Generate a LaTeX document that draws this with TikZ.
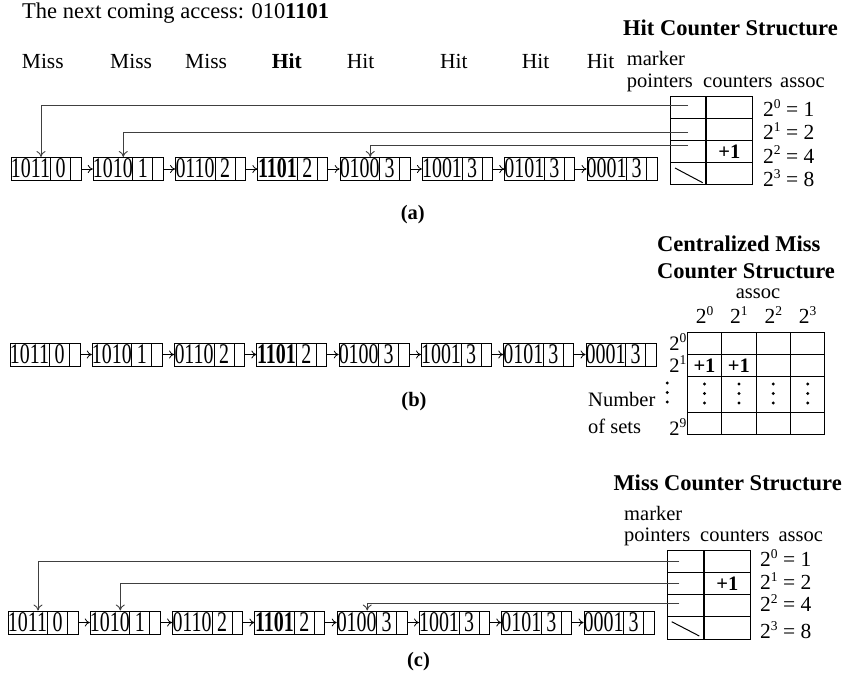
\documentclass[tikz,border=0pt]{standalone}
\usepackage{fontspec}
\setmainfont{Liberation Serif}
\newfontfamily\boxfont[FakeStretch=0.7]{Liberation Serif}
\usetikzlibrary{arrows.meta,shapes.multipart}

\newcommand{\ent}[2]{\makebox[39pt]{\rule[-3pt]{0pt}{23pt}#1}\nodepart{two}\makebox[19pt]{\rule[-3pt]{0pt}{23pt}#2}\nodepart{three}\makebox[10pt]{\rule[-3pt]{0pt}{23pt}}}
\newcommand{\expo}[1]{\raisebox{0.38em}{\fontsize{13.5}{14}\selectfont#1}}

\begin{document}
\begin{tikzpicture}[x=1pt,y=-1pt,
head/.style={font=\fontsize{22.5}{26}\selectfont,inner sep=0pt},
word/.style={font=\fontsize{21.5}{25}\selectfont,inner sep=0pt},
small/.style={font=\fontsize{20.5}{24}\selectfont,inner sep=0pt},
title/.style={font=\fontsize{22.5}{26}\selectfont\bfseries,inner sep=0pt},
entry/.style={rectangle split,rectangle split horizontal,rectangle split parts=3,draw,line width=1pt,inner sep=0pt,font=\boxfont\fontsize{28.5}{30}\selectfont},
cell/.style={draw,line width=1pt,minimum width=#1,minimum height=22pt,inner sep=0pt,font=\fontsize{20.5}{24}\selectfont\bfseries},
link/.style={-{To[length=5pt,width=8pt]},line width=0.8pt},
ptr/.style={-{To[length=6pt,width=9pt]},line width=0.9pt,draw=black!75}]

\useasboundingbox (0,0) rectangle (846,681);

% access sequence
\node[head,anchor=base west] (access) at (22,18.3) {The next coming access: 010\textbf{1101}};
\foreach \x/\w [count=\n] in {21.7/Miss,110/Miss,185/Miss,271.7/\textbf{Hit},346.7/Hit,440/Hit,521.7/Hit,586.7/Hit}
  \node[word,anchor=base west] (res\n) at (\x,68.3) {\w};

% the three lists
\foreach \r/\x/\y in {a/46/169,b/45/354.5,c/43/622.5} {
  \foreach \k/\tag/\cnt in {0/1011/0,1/1010/1,2/0110/2,3/\textbf{1101}/2,4/0100/3,5/1001/3,6/0101/3,7/0001/3}
    \node[entry] (\r\k) at (\x+82.3*\k,\y) {\ent{\tag}{\cnt}};
  \foreach \k [count=\n] in {0,...,6}
    \draw[link] (\r\k.east) -- (\r\n.west);
}

% (a) hit counter structure
\node[title,anchor=base west] (hittitle) at (623,35) {Hit Counter Structure};
\node[small,anchor=base west] (hmark) at (626.7,65.5) {marker};
\node[small,anchor=base west] (hptr) at (626.7,87.5) {pointers};
\node[small,anchor=base west] (hcnt) at (703,87.5) {counters};
\node[small,anchor=base west] (hasc) at (780,87.5) {assoc};
\foreach \i/\v/\b/\e/\w in {1/{}/116.7/0/1,2/{}/139.3/1/2,3/+1/163/2/4,4/{}/186.7/3/8} {
  \node[cell=36pt] (hp\i) at (688,85.7+22*\i) {};
  \node[cell=46.7pt] (hc\i) at (729.3,85.7+22*\i) {\v};
  \node[word,anchor=base west] (hw\i) at (763,\b) {2\expo{\e} = \w};
}
\draw[ptr] ([yshift=2.7pt]hp1.center) -| ([xshift=-5pt]a0.north);
\draw[ptr] ([yshift=-3pt]hp2.center) -| ([xshift=-5pt]a1.north);
\draw[ptr] ([yshift=6pt]hp3.center) -| ([xshift=-5pt]a4.north);
\draw[line width=1pt] ([shift={(-13pt,5.7pt)}]hp4.center) -- ([shift={(14.7pt,-9pt)}]hp4.center);
\node[title,font=\fontsize{20.5}{24}\selectfont\bfseries] (capa) at (412.7,215) {(a)};

% (b) centralized miss counter structure
\node[title,anchor=base west] (cmtitle) at (657,251.5) {Centralized Miss};
\node[title,anchor=base west] (cmtitle2) at (657,278) {Counter Structure};
\node[small,anchor=base] (cmasc) at (758,298) {assoc};
\foreach \j [evaluate=\j as \e using int(\j-1)] in {1,...,4} {
  \node[word,anchor=base] (cme\j) at (670.1+34.4*\j,323.5) {2\expo{\e}};
  \node[cell=34.4pt] (cm1\j) at (670.1+34.4*\j,343.7) {};
  \node[cell=34.4pt,minimum height=36pt] (cm3\j) at (670.1+34.4*\j,394.7) {};
  \node[cell=34.4pt] (cm4\j) at (670.1+34.4*\j,423.7) {};
  \foreach \d in {10.7,1.2,-8.3}
    \fill ([yshift=\d pt]cm3\j.center) circle (1.6pt);
}
\node[cell=34.4pt] (cm21) at (704.5,365.7) {+1};
\node[cell=34.4pt] (cm22) at (738.9,365.7) {+1};
\node[cell=34.4pt] (cm23) at (773.3,365.7) {};
\node[cell=34.4pt] (cm24) at (807.7,365.7) {};
\node[small,anchor=base east] (cms0) at (686.5,350.5) {2\expo{0}};
\node[small,anchor=base east] (cms1) at (686.5,372) {2\expo{1}};
\node[small,anchor=base east] (cms9) at (686.5,435) {2\expo{9}};
\foreach \y in {383,392.5,402}
  \fill (667.3,\y) circle (1.6pt);
\node[small,anchor=base west] (cmnum) at (588,406.7) {Number};
\node[small,anchor=base west] (cmsets) at (588,433) {of sets};
\node[title,font=\fontsize{20.5}{24}\selectfont\bfseries] (capb) at (414,401.7) {(b)};

% (c) miss counter structure
\node[title,anchor=base west] (mtitle) at (613.3,490) {Miss Counter Structure};
\node[small,anchor=base west] (mmark) at (624,520) {marker};
\node[small,anchor=base west] (mptr) at (624,541.7) {pointers};
\node[small,anchor=base west] (mcnt) at (700,541.7) {counters};
\node[small,anchor=base west] (masc) at (778.3,541.7) {assoc};
\foreach \i/\v/\b/\e/\w in {1/{}/566.7/0/1,2/+1/589.3/1/2,3/{}/611.7/2/4,4/{}/638.3/3/8} {
  \node[cell=36.7pt,minimum height=22.3pt] (mp\i) at (685.7,538.9+22.3*\i) {};
  \node[cell=46.7pt,minimum height=22.3pt] (mc\i) at (727.3,538.9+22.3*\i) {\v};
  \node[word,anchor=base west] (mw\i) at (760,\b) {2\expo{\e} = \w};
}
\draw[ptr] ([xshift=-6.4pt]mp1.center) -| ([xshift=-5pt]c0.north);
\draw[ptr] ([xshift=-6.4pt]mp2.center) -| ([xshift=-5pt]c1.north);
\draw[ptr] ([shift={(-6.4pt,2.5pt)}]mp3.center) -| ([xshift=-5pt]c4.north);
\draw[line width=1pt] ([shift={(-14pt,6.4pt)}]mp4.center) -- ([shift={(13.6pt,-7.9pt)}]mp4.center);
\node[title,font=\fontsize{20.5}{24}\selectfont\bfseries] (capc) at (418.5,661.7) {(c)};

\end{tikzpicture}
\end{document}
